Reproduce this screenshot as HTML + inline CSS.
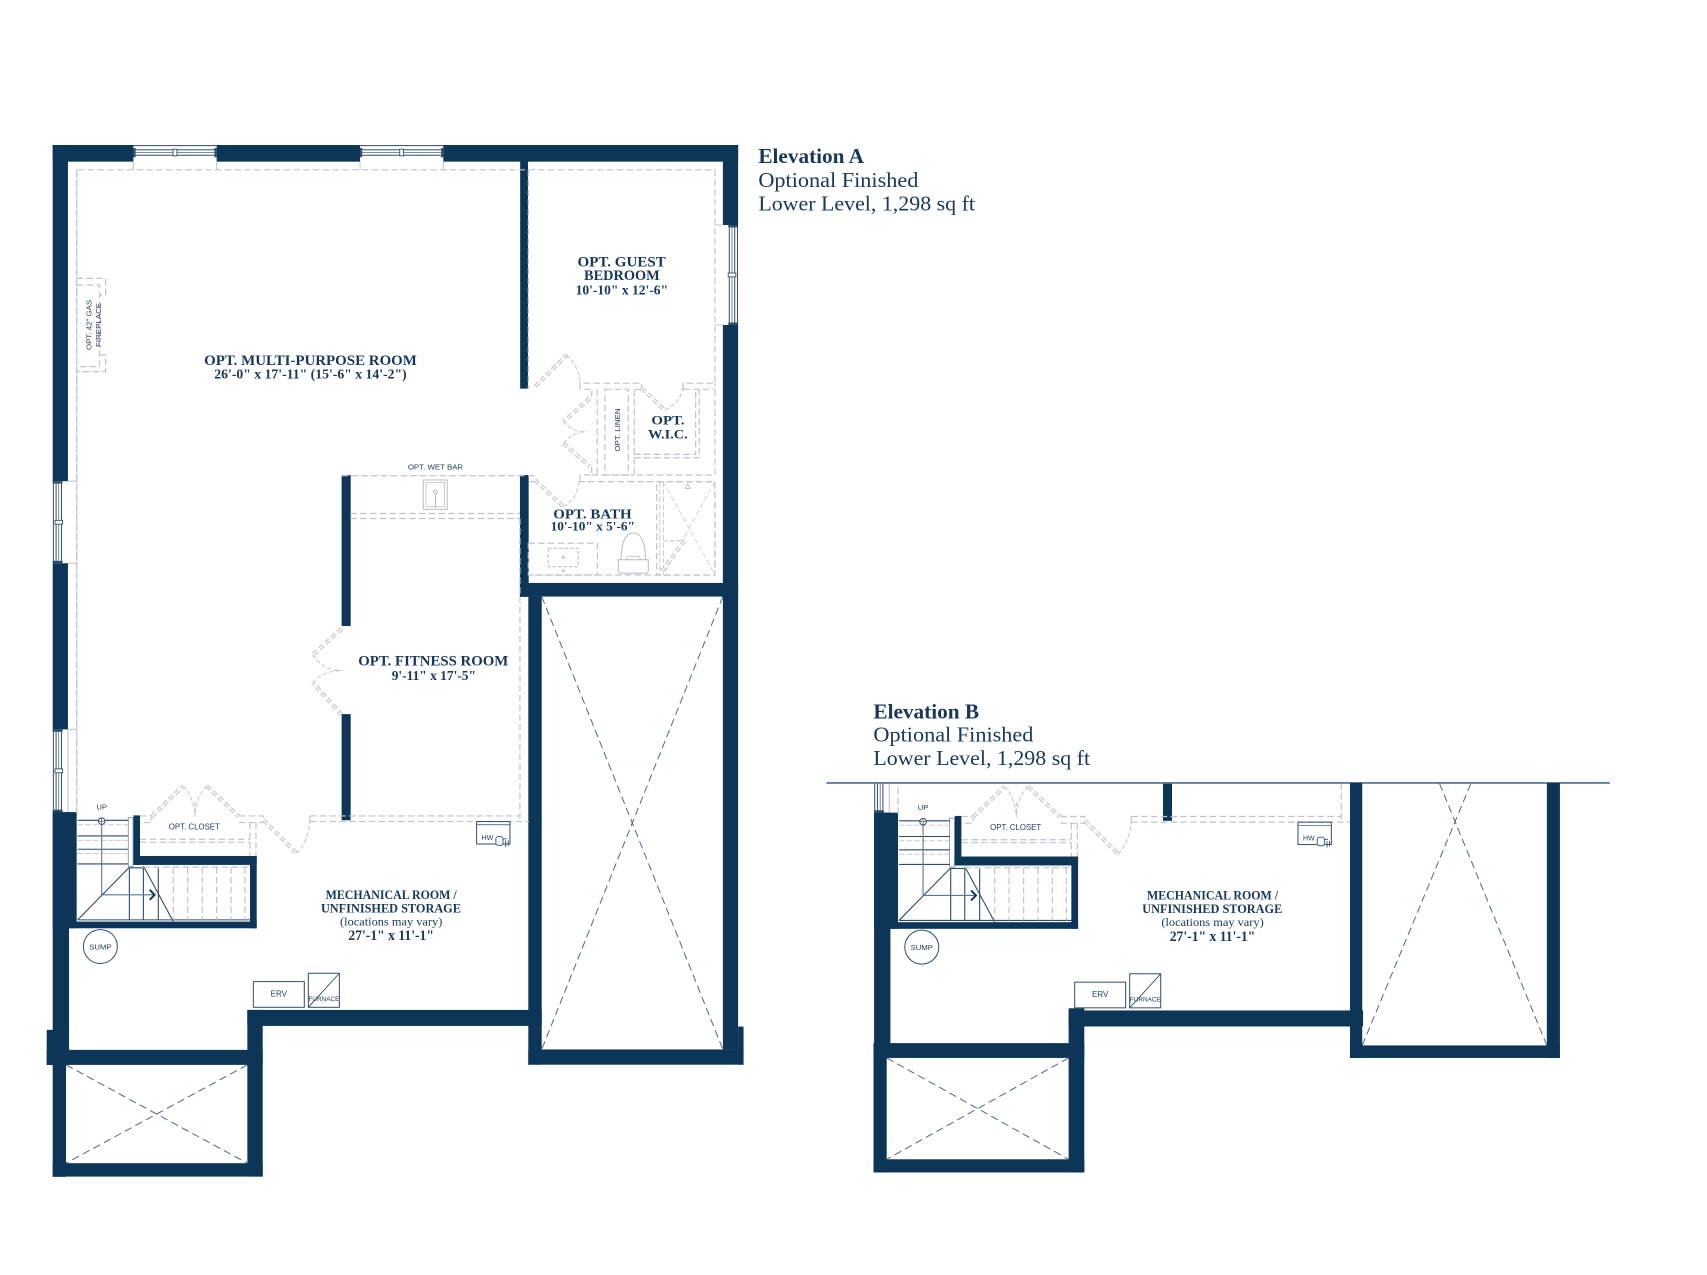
<!DOCTYPE html>
<html><head><meta charset="utf-8">
<style>
html,body{margin:0;padding:0;background:#fff;}
svg{display:block;}
</style></head>
<body>
<svg width="1707" height="1275" viewBox="0 0 1568 1171.2" xmlns="http://www.w3.org/2000/svg" xmlns:xlink="http://www.w3.org/1999/xlink">
<defs>
<style>
.w{fill:#0c3557}
.d{fill:none;stroke:#c2c2d0;stroke-width:1.1;stroke-dasharray:6 3}
.a{fill:none;stroke:#c2c2d0;stroke-width:0.9;stroke-dasharray:4 2}
.g{fill:none;stroke:#c2c2d0;stroke-width:1}
.dd{fill:none;stroke:#c2c2d0;stroke-width:3.4;stroke-dasharray:5 2.5}
.wh{fill:none;stroke:#fff;stroke-width:1.3}
.x{fill:none;stroke:#4a6585;stroke-width:0.9;stroke-dasharray:7 4}
.ln{fill:none;stroke:#2c4a69;stroke-width:0.9}
.st{fill:none;stroke:#2c4a69;stroke-width:1}
.lab{font-family:"Liberation Serif",serif;font-weight:bold;fill:#17385b;text-anchor:middle}
.el{font-family:"Liberation Serif",serif;fill:#17385b}
.sm{font-family:"Liberation Sans",sans-serif;fill:#1d3b5c;text-anchor:middle}
</style>
<clipPath id="cb"><rect x="700" y="719.9" width="820" height="460"/></clipPath>
<g id="hwin">
  <line x1="0" y1="0.6" x2="76.5" y2="0.6" class="ln"/>
  <rect x="1" y="4.4" width="74.5" height="5" class="ln"/>
  <line x1="1" y1="6.9" x2="75.5" y2="6.9" stroke="#2c4a69" stroke-width="0.6"/>
  <rect x="0" y="2.8" width="2" height="8.5" fill="#2c4a69"/>
  <rect x="74.5" y="2.8" width="2" height="8.5" fill="#2c4a69"/>
  <rect x="36.5" y="3.8" width="3.5" height="6.2" fill="#fff" stroke="#2c4a69" stroke-width="0.8"/>
  <line x1="0" y1="15.3" x2="0" y2="23" class="g"/>
  <line x1="76.5" y1="15.3" x2="76.5" y2="23" class="g"/>
</g>
</defs>

<!-- ================= ELEVATION A ================= -->
<!-- top wall -->
<rect class="w" x="48.4" y="133.2" width="74.1" height="15.3"/>
<rect class="w" x="199" y="133.2" width="131.7" height="15.3"/>
<rect class="w" x="407.2" y="133.2" width="270.8" height="15.3"/>
<use xlink:href="#hwin" href="#hwin" x="122.5" y="133.2"/>
<use xlink:href="#hwin" href="#hwin" x="330.7" y="133.2"/>

<!-- left wall upper -->
<rect class="w" x="48.4" y="133.2" width="14" height="308.8"/>
<rect class="w" x="48.4" y="517.4" width="14" height="152.6"/>
<!-- left window 442-517 -->
<g>
  <line x1="49" y1="442" x2="49" y2="517.4" class="ln"/>
  <rect x="51.5" y="443" width="5" height="73.4" class="ln"/>
  <line x1="54" y1="443" x2="54" y2="516.4" stroke="#2c4a69" stroke-width="0.6"/>
  <rect x="48.4" y="442" width="9" height="2.2" fill="#2c4a69"/>
  <rect x="48.4" y="515.2" width="9" height="2.2" fill="#2c4a69"/>
  <rect x="50.5" y="478" width="7" height="3.5" fill="#fff" stroke="#2c4a69" stroke-width="0.8"/>
  <line x1="62.4" y1="442" x2="70.4" y2="442" class="g"/>
  <line x1="62.4" y1="517.4" x2="70.4" y2="517.4" class="g"/>
</g>

<!-- right wall -->
<rect class="w" x="664" y="133.2" width="14" height="73.5"/>
<rect class="w" x="664" y="298.5" width="14" height="665.5"/>
<g>
  <line x1="677.4" y1="206.7" x2="677.4" y2="298.5" class="ln"/>
  <rect x="669.9" y="207.7" width="5" height="89.8" class="ln"/>
  <line x1="672.4" y1="207.7" x2="672.4" y2="297.5" stroke="#2c4a69" stroke-width="0.6"/>
  <rect x="669" y="206.7" width="9" height="2.2" fill="#2c4a69"/>
  <rect x="669" y="296.3" width="9" height="2.2" fill="#2c4a69"/>
  <rect x="668.9" y="250.8" width="7" height="3.5" fill="#fff" stroke="#2c4a69" stroke-width="0.8"/>
  <line x1="656.7" y1="206.7" x2="664" y2="206.7" class="g"/>
  <line x1="656.7" y1="298.5" x2="664" y2="298.5" class="g"/>
</g>

<!-- interior walls -->
<rect class="w" x="477.8" y="148" width="7.2" height="209"/>
<rect class="w" x="477.6" y="436.3" width="8" height="112"/>
<rect class="w" x="477.6" y="535.5" width="200.4" height="12.5"/>
<rect class="w" x="313.8" y="436.4" width="8.3" height="138.6"/>

<!-- bay (right box) -->
<rect class="w" x="485.3" y="548" width="12.3" height="430"/>
<rect class="w" x="485.3" y="964" width="197.7" height="14"/>
<rect class="w" x="678" y="943" width="5" height="35"/>
<path class="x" d="M497.6,548 L664,964 M664,548 L497.6,964"/>

<!-- bottom-left box -->
<rect class="w" x="42.9" y="946" width="20.5" height="32.2"/>
<rect class="w" x="42.9" y="964.4" width="198.4" height="13.8"/>
<rect class="w" x="48.4" y="964" width="12.2" height="117"/>
<rect class="w" x="48.4" y="1068.5" width="192.9" height="12.3"/>
<rect class="w" x="227.2" y="927.7" width="14.1" height="153.1"/>
<path class="x" d="M60.6,978.2 L227.2,1068.5 M227.2,978.2 L60.6,1068.5"/>

<!-- dashed room outlines (A upper) -->
<path class="d" d="M70.4,749 V156 H656.7 V352"/>
<path class="d" d="M485.3,156 V357"/>
<g class="g">
  <line x1="62.4" y1="670" x2="70.4" y2="670"/>
</g>
<!-- fireplace -->
<path class="d" d="M70.4,255.7 H97 V271 H91.4 M91.4,326 H97 V341.4 H70.4"/>
<path class="d" d="M70.4,261.8 H91.4 V336.8 H70.4"/>
<text class="sm" font-size="6.8" transform="translate(84.2,298.5) rotate(-90)" textLength="46" lengthAdjust="spacingAndGlyphs">OPT. 42" GAS</text>
<text class="sm" font-size="6.8" transform="translate(92.6,298.5) rotate(-90)" textLength="40.5" lengthAdjust="spacingAndGlyphs">FIREPLACE</text>

<!-- wet bar -->
<path class="d" d="M313.8,437 H492 M321.8,471.7 H477.6 M321.8,476.3 H477.6"/>
<rect x="388.8" y="440.9" width="22" height="27" fill="none" stroke="#c2c2d0" stroke-width="1"/>
<rect x="391.2" y="443.3" width="17.2" height="22.2" fill="none" stroke="#c2c2d0" stroke-width="0.8"/>
<circle cx="400" cy="452" r="1.7" fill="none" stroke="#a8a8bb" stroke-width="0.8"/>
<line x1="400" y1="454" x2="400" y2="466" stroke="#a8a8bb" stroke-width="0.8"/>

<!-- bedroom / hall / linen / wic -->
<path class="d" d="M532.8,357.6 V352 H589.3 V357.6 M627.5,357.6 V352 H656.7"/>
<path class="d" d="M532.8,352 V357.6 H543.5 V364.3 M543.5,428.6 V436.3 H532.8 V442.4"/>
<path class="d" d="M548.6,357.6 V436.3 M555.7,357.6 H577.1 V436.3 H555.7 Z"/>
<path class="d" d="M582.6,357.6 V436.3 H656.7 V352 M582.6,357.6 H589.3 M627.5,357.6 H656.7 M543.5,436.3 H582.6"/>
<path class="d" d="M582.6,417.4 H639 V357.6 M582.6,420.5 H642.3 V357.6"/>
<!-- bath -->
<path class="d" d="M485.3,442.4 H491.4 M531.2,442.4 H656.7 V528.2 H485.3"/>
<rect class="d" x="485.3" y="499" width="63.4" height="29.2"/>
<rect class="d" x="503.6" y="503.7" width="27.6" height="16.8" style="stroke-dasharray:3 2"/>
<circle cx="517.4" cy="512" r="1.1" fill="none" stroke="#b0b0c2" stroke-width="0.7"/>
<circle cx="517.4" cy="524.2" r="1.1" fill="none" stroke="#b0b0c2" stroke-width="0.7"/>
<path d="M568,514.2 H595.5 V524 Q595.5,526.6 592.5,526.6 H571 Q568,526.6 568,524 Z" fill="none" stroke="#b8b8c8" stroke-width="0.9"/>
<path d="M570.5,514.2 Q571,489.5 581.7,489.5 Q592.5,489.5 593,514.2" fill="none" stroke="#b8b8c8" stroke-width="0.9"/>
<path d="M575,514.2 L576.5,511 H587 L588.5,514.2" fill="none" stroke="#b8b8c8" stroke-width="0.7"/>
<rect class="d" x="603.2" y="442.4" width="53.5" height="85.8"/>
<path d="M606,442.4 V528.2 M609.3,442.4 V528.2" fill="none" stroke="#c2c2d0" stroke-width="0.8" stroke-dasharray="5 2"/>
<path d="M609.3,442.4 L656.7,528.2 M656.7,442.4 L609.3,528.2" fill="none" stroke="#c8c8d6" stroke-width="0.7" stroke-dasharray="5 2.5"/>
<path d="M629.5,448.6 L631.7,444.7 L634,448.6 Z" fill="none" stroke="#b0b0c2" stroke-width="0.7"/>
<path class="a" d="M609.3,497 Q622,497 629.1,496.1"/>

<!-- door leaves (double dashed) A-only -->
<path class="dd" d="M491.4,355.2 L520.6,326.1 M541.9,365.9 L517.4,387.3 M517.4,407.2 L541.9,428.6 M589.3,356.7 L610.7,376.6 M491.4,440.9 L517.4,465.4 M313.8,577.6 L287.2,601.6 M313.8,656.6 L287.2,627.1 M608,524.9 L629.1,496.1"/>
<path class="wh" d="M491.4,355.2 L520.6,326.1 M541.9,365.9 L517.4,387.3 M517.4,407.2 L541.9,428.6 M589.3,356.7 L610.7,376.6 M491.4,440.9 L517.4,465.4 M313.8,577.6 L287.2,601.6 M313.8,656.6 L287.2,627.1 M608,524.9 L629.1,496.1"/>
<path class="a" d="M520.6,326.1 Q532,337 532.8,352 M517.4,387.3 Q527,398 538.9,396.5 M517.4,407.2 Q527,396 538.9,396.5 M610.7,376.6 Q626,370 627.5,353.4 M517.4,465.4 Q531,458 531.2,442.4 M287.2,601.6 Q297,616 313.8,616 M287.2,627.1 Q297,616 313.8,616"/>

<!-- ===== shared lower group (A, reused for B) ===== -->
<g id="lo">
  <rect class="w" x="48.4" y="746" width="15" height="216"/>
  <rect class="w" x="48.4" y="746" width="22" height="106.7"/>
  <!-- left window 670-746 -->
  <line x1="49" y1="670" x2="49" y2="746" class="ln"/>
  <rect x="51.5" y="671" width="5" height="74" class="ln"/>
  <line x1="54" y1="671" x2="54" y2="745" stroke="#2c4a69" stroke-width="0.6"/>
  <rect x="48.4" y="670" width="9" height="2.2" fill="#2c4a69"/>
  <rect x="48.4" y="743.8" width="9" height="2.2" fill="#2c4a69"/>
  <rect x="50.5" y="706.3" width="7" height="3.5" fill="#fff" stroke="#2c4a69" stroke-width="0.8"/>
  <line x1="62.4" y1="670" x2="62.4" y2="746" class="g"/>
  <path class="d" d="M70.4,156 V749"/>
  <!-- fitness lower wall -->
  <rect class="w" x="313.8" y="656" width="8.3" height="97.5"/>
  <path class="d" d="M477.6,476.3 V754.7"/>
  <!-- stair walls -->
  <rect class="w" x="122.5" y="749" width="6.1" height="45.5"/>
  <rect class="w" x="122.5" y="786.3" width="113.3" height="8.2"/>
  <rect class="w" x="229.6" y="786.3" width="6.2" height="66.4"/>
  <rect class="w" x="63" y="846.6" width="172.8" height="6.1"/>
  <rect x="117.8" y="751" width="4.4" height="45" fill="#fff" stroke="#6d86a0" stroke-width="0.7"/>
  <!-- stairs -->
  <path class="st" d="M71.3,753.5 H117.8 M71.3,767.9 H117.8 M71.3,780.1 H117.8 M71.3,793.6 H117.8 M117.9,797.6 L71.3,845 M118.8,797.6 V845 M131.7,797.6 V845 M145.4,797.6 V845 M131.7,795.5 L159.2,846.6 M71.3,845 H229.6 M117.8,797.2 H131.7"/>
  <path d="M71.3,757.5 H117.8 M71.3,771.9 H117.8 M71.3,784.1 H117.8" fill="none" stroke="#c2c2d0" stroke-width="0.8" stroke-dasharray="5 2"/>
  <path d="M93.4,757.3 V822 H140.8" fill="none" stroke="#5b7693" stroke-width="1"/>
  <path d="M137.5,817.4 L142,822 L137.5,826.6" fill="none" stroke="#0c3557" stroke-width="1.8"/>
  <circle cx="93.4" cy="754.3" r="3" fill="#fff" stroke="#2c4a69" stroke-width="0.9"/>
  <path d="M90.4,754.3 H96.4 M93.4,751.3 V757.3" stroke="#2c4a69" stroke-width="0.6"/>
  <path class="d" d="M131.7,796.5 H229.6 M159.2,796.5 V845 M172.4,796.5 V845 M185.8,796.5 V845 M199,796.5 V845 M212.2,796.5 V845 M225,796.5 V845"/>
  <!-- closet -->
  <path class="d" d="M128.6,749.5 H139.3 V755.6 H128.6 M219.5,749.5 H241.9 V755.6 H219.5 M229.6,755.6 V786.3 M235.1,755.6 V786.3"/>
  <path class="d" d="M128.6,770.9 H229.6 M128.6,773.6 H229.6"/>
  <path class="dd" d="M139.3,750.1 L168.4,721.9 M189.8,721.9 L219.5,750.1 M241.9,753.2 L272.5,783.8"/>
  <path class="wh" d="M139.3,750.1 L168.4,721.9 M189.8,721.9 L219.5,750.1 M241.9,753.2 L272.5,783.8"/>
  <path class="a" d="M168.4,721.9 Q177,731 179.1,748 M189.8,721.9 Q181,731 179.1,748 M179.1,736 V750 M272.5,783.8 Q284,772 284.7,752"/>
  <path class="d" d="M284.7,749.5 H477.6 M284.7,754.7 H486 M284.7,749.5 V758"/>
  <!-- HW -->
  <rect x="437.8" y="754.7" width="30.6" height="20.6" fill="none" stroke="#2c4a69" stroke-width="0.9"/>
  <line x1="437.8" y1="757.6" x2="468.4" y2="757.6" stroke="#2c4a69" stroke-width="0.6"/>
  <rect x="455.5" y="768.5" width="6.5" height="8" rx="2" fill="#fff" stroke="#2c4a69" stroke-width="0.8"/>
  <path d="M462,770.5 H465.5 M464.5,772 V778 M466.8,772 V777" stroke="#2c4a69" stroke-width="0.8" fill="none"/>
  <!-- sump / erv / furnace -->
  <circle cx="92.2" cy="869.5" r="15.6" fill="none" stroke="#2c4a69" stroke-width="0.9"/>
  <rect x="232.7" y="901.7" width="46.8" height="23.6" fill="none" stroke="#2c4a69" stroke-width="0.9"/>
  <rect x="283.2" y="894" width="28.5" height="31.3" fill="none" stroke="#2c4a69" stroke-width="0.9"/>
  <line x1="283.2" y1="925.3" x2="311.7" y2="894" stroke="#2c4a69" stroke-width="0.8"/>
  <!-- mech bottom wall -->
  <rect class="w" x="227.2" y="927.7" width="270.4" height="14.7"/>
</g>

<!-- A texts -->
<text class="lab" x="285.2" y="335.2" font-size="13.5" textLength="195.5" lengthAdjust="spacingAndGlyphs">OPT. MULTI-PURPOSE ROOM</text>
<text class="lab" x="285.2" y="347.6" font-size="13" textLength="176.7" lengthAdjust="spacingAndGlyphs">26'-0" x 17'-11" (15'-6" x 14'-2")</text>
<text class="lab" x="571" y="245" font-size="14" textLength="81" lengthAdjust="spacingAndGlyphs">OPT. GUEST</text>
<text class="lab" x="571.2" y="257.2" font-size="14" textLength="69.5" lengthAdjust="spacingAndGlyphs">BEDROOM</text>
<text class="lab" x="571.2" y="270.3" font-size="13" textLength="85" lengthAdjust="spacingAndGlyphs">10'-10" x 12'-6"</text>
<text class="lab" x="613.6" y="389.8" font-size="12" textLength="30.5" lengthAdjust="spacingAndGlyphs">OPT.</text>
<text class="lab" x="613.5" y="402.6" font-size="12" textLength="36.5" lengthAdjust="spacingAndGlyphs">W.I.C.</text>
<text class="lab" x="544.2" y="476.1" font-size="12.5" textLength="72" lengthAdjust="spacingAndGlyphs">OPT. BATH</text>
<text class="lab" x="544.5" y="487.4" font-size="12" textLength="77.5" lengthAdjust="spacingAndGlyphs">10'-10" x 5'-6"</text>
<text class="lab" x="398" y="611.5" font-size="13.5" textLength="137.8" lengthAdjust="spacingAndGlyphs">OPT. FITNESS ROOM</text>
<text class="lab" x="398.5" y="624.6" font-size="12.5" textLength="77.4" lengthAdjust="spacingAndGlyphs">9'-11" x 17'-5"</text>
<text class="sm" x="400" y="431.5" font-size="7" textLength="50.8" lengthAdjust="spacingAndGlyphs">OPT. WET BAR</text>
<text class="sm" font-size="7" transform="translate(569.3,395) rotate(-90)" textLength="39.8" lengthAdjust="spacingAndGlyphs">OPT. LINEN</text>

<text class="sm" x="93.4" y="743.4" font-size="7">UP</text>
<text class="sm" x="178.5" y="762" font-size="7.2" textLength="46.9" lengthAdjust="spacingAndGlyphs">OPT. CLOSET</text>
<text class="sm" x="442.4" y="771.6" font-size="7" text-anchor="start" style="text-anchor:start" textLength="10.7" lengthAdjust="spacingAndGlyphs">HW</text>
<text class="sm" x="92.2" y="872" font-size="7" textLength="20.5" lengthAdjust="spacingAndGlyphs">SUMP</text>
<text class="sm" x="256.1" y="915.5" font-size="7.5" textLength="15" lengthAdjust="spacingAndGlyphs">ERV</text>
<text class="sm" x="283.4" y="919.4" font-size="6.3" style="text-anchor:start" textLength="28.3" lengthAdjust="spacingAndGlyphs">FURNACE</text>
<text class="lab" x="359.3" y="825.7" font-size="11.8" textLength="120.4" lengthAdjust="spacingAndGlyphs">MECHANICAL ROOM /</text>
<text class="lab" x="359.1" y="838.3" font-size="11.8" textLength="128.6" lengthAdjust="spacingAndGlyphs">UNFINISHED STORAGE</text>
<text class="lab" x="359.3" y="850.2" font-size="10.5" font-weight="normal" style="font-weight:normal" textLength="94" lengthAdjust="spacingAndGlyphs">(locations may vary)</text>
<text class="lab" x="359.3" y="863.7" font-size="13.5" textLength="78.6" lengthAdjust="spacingAndGlyphs">27'-1" x 11'-1"</text>

<!-- Elevation A title -->
<text class="el" x="696.6" y="149.8" font-size="19" font-weight="bold" textLength="97" lengthAdjust="spacingAndGlyphs">Elevation A</text>
<text class="el" x="696.6" y="171.6" font-size="19" textLength="147" lengthAdjust="spacingAndGlyphs">Optional Finished</text>
<text class="el" x="696.6" y="193.2" font-size="19" textLength="199" lengthAdjust="spacingAndGlyphs">Lower Level, 1,298 sq ft</text>

<!-- ================= ELEVATION B ================= -->
<text class="el" x="802.3" y="659.8" font-size="19" font-weight="bold" textLength="97" lengthAdjust="spacingAndGlyphs">Elevation B</text>
<text class="el" x="802.3" y="681.2" font-size="19" textLength="147" lengthAdjust="spacingAndGlyphs">Optional Finished</text>
<text class="el" x="802.3" y="702.9" font-size="19" textLength="199" lengthAdjust="spacingAndGlyphs">Lower Level, 1,298 sq ft</text>
<line x1="759.2" y1="719.2" x2="1478.8" y2="719.2" stroke="#4a6a88" stroke-width="1.4"/>

<g clip-path="url(#cb)">
  <use xlink:href="#lo" href="#lo" transform="translate(754.5,0.5)"/>
</g>

<!-- B box -->
<rect class="w" x="802.4" y="958.2" width="193.6" height="13.6"/>
<rect class="w" x="802.4" y="958" width="12.1" height="119"/>
<rect class="w" x="802.4" y="1064.9" width="193.6" height="12.1"/>
<rect class="w" x="981.6" y="926.2" width="14.4" height="150.8"/>
<path class="x" d="M814.5,971.8 L981.6,1064.9 M981.6,971.8 L814.5,1064.9"/>
<!-- B bay -->
<rect class="w" x="1240.1" y="719.2" width="11.2" height="252.6"/>
<rect class="w" x="1420.9" y="719.2" width="12" height="252.6"/>
<rect class="w" x="1240.1" y="960.3" width="192.8" height="11.5"/>
<path class="x" d="M1251.3,960.3 L1351.1,719.8 M1420.9,960.3 L1322.3,719.8"/>

<!-- B texts -->
<text class="sm" x="847.9" y="743.9" font-size="7">UP</text>
<text class="sm" x="933" y="762.5" font-size="7.2" textLength="46.9" lengthAdjust="spacingAndGlyphs">OPT. CLOSET</text>
<text class="sm" x="1196.9" y="772.1" font-size="7" style="text-anchor:start" textLength="10.7" lengthAdjust="spacingAndGlyphs">HW</text>
<text class="sm" x="846.7" y="872.5" font-size="7" textLength="20.5" lengthAdjust="spacingAndGlyphs">SUMP</text>
<text class="sm" x="1010.6" y="916" font-size="7.5" textLength="15" lengthAdjust="spacingAndGlyphs">ERV</text>
<text class="sm" x="1037.9" y="919.9" font-size="6.3" style="text-anchor:start" textLength="28.3" lengthAdjust="spacingAndGlyphs">FURNACE</text>
<text class="lab" x="1113.8" y="826.2" font-size="11.8" textLength="120.4" lengthAdjust="spacingAndGlyphs">MECHANICAL ROOM /</text>
<text class="lab" x="1113.6" y="838.8" font-size="11.8" textLength="128.6" lengthAdjust="spacingAndGlyphs">UNFINISHED STORAGE</text>
<text class="lab" x="1113.8" y="850.7" font-size="10.5" style="font-weight:normal" textLength="94" lengthAdjust="spacingAndGlyphs">(locations may vary)</text>
<text class="lab" x="1113.8" y="864.2" font-size="13.5" textLength="78.6" lengthAdjust="spacingAndGlyphs">27'-1" x 11'-1"</text>
</svg>
</body>
</html>
